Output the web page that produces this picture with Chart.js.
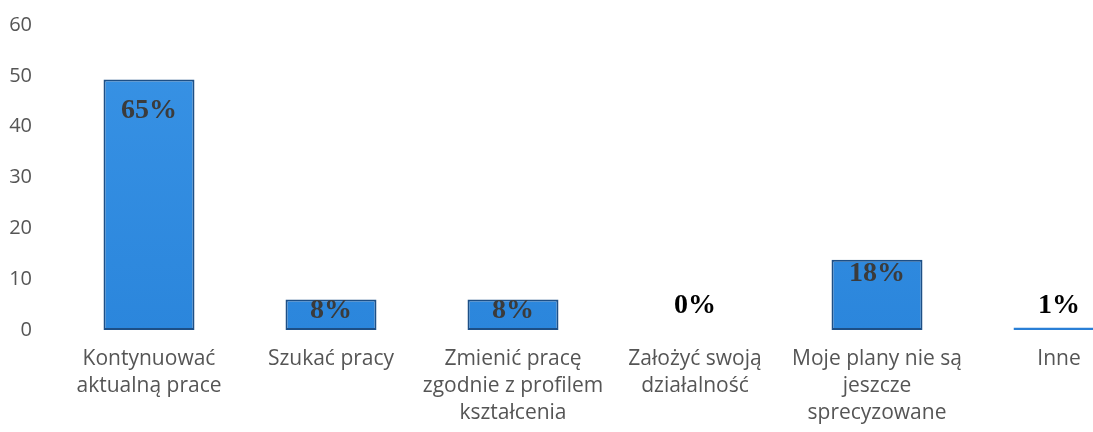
<!DOCTYPE html>
<html>
<head>
<meta charset="utf-8">
<script src="https://cdn.jsdelivr.net/npm/chart.js@4/dist/chart.umd.min.js"></script>
<style>
  html, body { margin: 0; padding: 0; background: #fff; overflow: hidden; }
  #wrap { width: 1150px; height: 432px; }
</style>
</head>
<body>
<div id="wrap"><canvas id="chart"></canvas></div>
<script>
const categories = [
  ['Kontynuować', 'aktualną prace'],
  ['Szukać pracy'],
  ['Zmienić pracę', 'zgodnie z profilem', 'kształcenia'],
  ['Założyć swoją', 'działalność'],
  ['Moje plany nie są', 'jeszcze', 'sprecyzowane'],
  ['Inne'],
];
const values = [49.3, 6, 6, 0, 13.8, 0.5];
const percentLabels = ['65%', '8%', '8%', '0%', '18%', '1%'];
const yTicks = [0, 10, 20, 30, 40, 50, 60];

// draws the percent text on/above each bar
const percentPlugin = {
  id: 'percentPlugin',
  afterDatasetsDraw(chart) {
    const ctx = chart.ctx;
    const meta = chart.getDatasetMeta(0);
    ctx.save();
    ctx.font = 'bold 28px "Liberation Serif", "Times New Roman", serif';
    ctx.textAlign = 'center';
    meta.data.forEach((bar, i) => {
      const v = values[i];
      let y;
      if (v < 2) {
        ctx.textBaseline = 'bottom';
        ctx.fillStyle = '#000';
        y = bar.base - 10;
      } else {
        ctx.textBaseline = 'top';
        ctx.fillStyle = '#3b3b3b';
        y = bar.y + (v > 20 ? 17 : v < 10 ? -3 : 0);
      }
      ctx.fillText(percentLabels[i], bar.x, y);
    });
    ctx.restore();
  },
};

const getcanvas = document.getElementById('chart').getContext('2d');
const fill = getcanvas.createLinearGradient(0, 0, 0, 330);
fill.addColorStop(0, '#3a94e6');
fill.addColorStop(1, '#2b86dc');

new Chart(getcanvas, {
  type: 'bar',
  data: {
    labels: categories,
    datasets: [
      {
        data: values,
        backgroundColor: fill,
        // very thin bars read as a plain blue line, not an outline
        borderColor: (c) => (values[c.dataIndex] < 1 ? '#2a7fd6' : '#1d4f86'),
        borderWidth: 2,
        borderSkipped: false,
        categoryPercentage: 1,
        barPercentage: 0.5,
      },
    ],
  },
  options: {
    responsive: true,
    maintainAspectRatio: false,
    animation: false,
    layout: { padding: { top: 25, left: 8, right: 0, bottom: 0 } },
    plugins: {
      legend: { display: false },
      tooltip: { enabled: false },
    },
    scales: {
      x: {
        grid: { display: false, drawTicks: false },
        border: { display: false },
        afterFit(scale) {
          scale.height = 102;
          scale.paddingLeft = 0;
          scale.paddingRight = 0;
        },
        ticks: {
          color: '#555555',
          padding: 15,
          maxRotation: 0,
          autoSkip: false,
          font: { family: '"Open Sans"', size: 21, lineHeight: 1.29 },
        },
      },
      y: {
        min: 0,
        max: 60,
        grid: { display: false, drawTicks: false },
        border: { display: false },
        afterBuildTicks(axis) {
          axis.ticks = yTicks.map((v) => ({ value: v }));
        },
        afterFit(scale) {
          scale.width = 50;
          scale.paddingTop = 0;
          scale.paddingBottom = 0;
        },
        ticks: {
          color: '#555555',
          padding: 26,
          font: { family: '"Open Sans"', size: 20 },
        },
      },
    },
  },
  plugins: [percentPlugin],
});
</script>
</body>
</html>
